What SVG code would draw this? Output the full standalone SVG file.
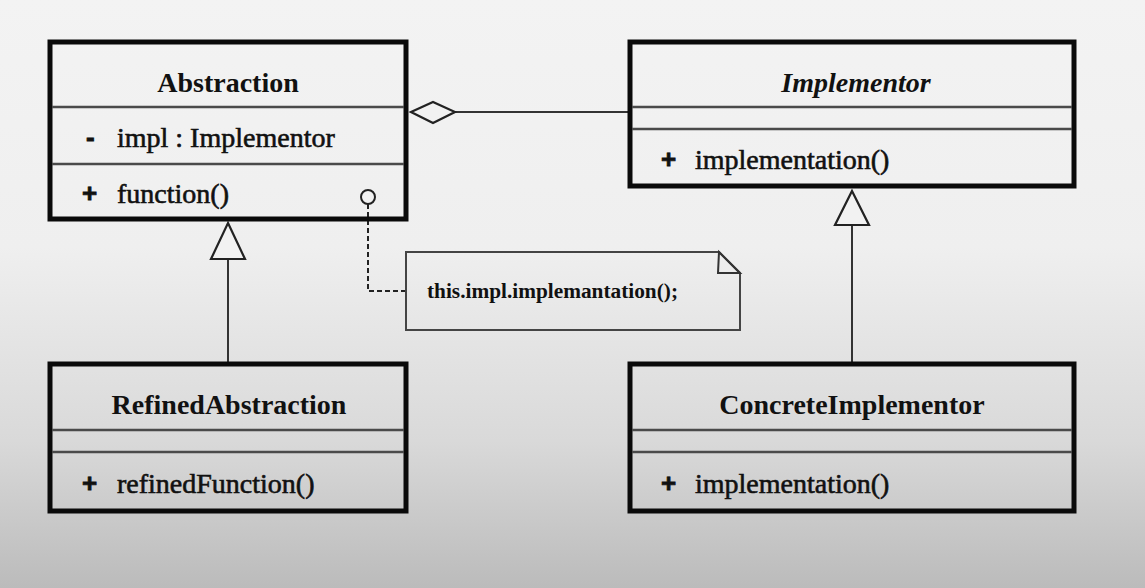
<svg xmlns="http://www.w3.org/2000/svg" width="1145" height="588" viewBox="0 0 1145 588">
<defs>
<linearGradient id="bg" x1="0" y1="0" x2="0" y2="1">
<stop offset="0" stop-color="#f3f3f3"/>
<stop offset="0.42" stop-color="#efefef"/>
<stop offset="0.75" stop-color="#d9d9d9"/>
<stop offset="1" stop-color="#bbbbbb"/>
</linearGradient>
<style>
.box{fill:none;stroke:#0a0a0a;stroke-width:5}
.div{stroke:#4a4a4a;stroke-width:2.5}
.title{font-family:"Liberation Serif","DejaVu Serif",serif;font-size:28px;font-weight:bold;fill:#111;text-anchor:middle}
.mem{font-family:"Liberation Serif","DejaVu Serif",serif;font-size:28px;fill:#111;stroke:#111;stroke-width:0.6}
.vis{font-family:"Liberation Sans","DejaVu Sans",sans-serif;font-size:26px;font-weight:bold;fill:#111;stroke:#111;stroke-width:0.8}
.line{fill:none;stroke:#333;stroke-width:2}
.head{fill:#f2f2f2;stroke:#222;stroke-width:2.2}
.note{font-family:"Liberation Serif","DejaVu Serif",serif;font-size:20px;font-weight:bold;fill:#111}
</style>
</defs>
<rect x="0" y="0" width="1145" height="588" fill="url(#bg)"/>
<g id="connectors">
<line class="line" x1="455" y1="112" x2="630" y2="112"/>
<polygon class="head" points="411,112 433,102 455,112 433,123"/>
<line class="line" x1="228" y1="259" x2="228" y2="364"/>
<polygon class="head" points="228,223 245,259 211,259"/>
<line class="line" x1="852" y1="225" x2="852" y2="364"/>
<polygon class="head" points="852,191 869,225 835,225"/>
<circle cx="368" cy="197" r="7" fill="#f2f2f2" stroke="#222" stroke-width="2"/>
<polyline points="368,204 368,291 406,291" fill="none" stroke="#222" stroke-width="2" stroke-dasharray="5,3"/>
</g>
<g id="abstraction">
<rect class="box" x="50" y="42" width="356" height="177"/>
<line class="div" x1="52" y1="107" x2="404" y2="107"/>
<line class="div" x1="52" y1="164" x2="404" y2="164"/>
<text class="title" x="228" y="92">Abstraction</text>
<text class="vis" x="86" y="146">-</text>
<text class="mem" x="117" y="147">impl : Implementor</text>
<text class="vis" x="82" y="202">+</text>
<text class="mem" x="117" y="203">function()</text>
</g>
<g id="implementor">
<rect class="box" x="630" y="42" width="444" height="144"/>
<line class="div" x1="632" y1="107" x2="1072" y2="107"/>
<line class="div" x1="632" y1="129" x2="1072" y2="129"/>
<text class="title" x="856" y="92" font-style="italic">Implementor</text>
<text class="vis" x="661" y="168">+</text>
<text class="mem" x="695" y="169">implementation()</text>
</g>
<g id="refinedAbstraction">
<rect class="box" x="50" y="364" width="356" height="147"/>
<line class="div" x1="52" y1="430" x2="404" y2="430"/>
<line class="div" x1="52" y1="452" x2="404" y2="452"/>
<text class="title" x="229" y="414">RefinedAbstraction</text>
<text class="vis" x="82" y="492">+</text>
<text class="mem" x="117" y="493">refinedFunction()</text>
</g>
<g id="concreteImplementor">
<rect class="box" x="630" y="364" width="444" height="147"/>
<line class="div" x1="632" y1="430" x2="1072" y2="430"/>
<line class="div" x1="632" y1="452" x2="1072" y2="452"/>
<text class="title" x="852" y="414">ConcreteImplementor</text>
<text class="vis" x="661" y="492">+</text>
<text class="mem" x="695" y="493">implementation()</text>
</g>
<g id="note">
<polygon points="406,252 719,252 740,273 740,330 406,330" fill="none" stroke="#444" stroke-width="2"/>
<polygon points="719,252 740,273 718,273" fill="none" stroke="#333" stroke-width="2"/>
<text class="note" x="427" y="298" textLength="251" lengthAdjust="spacingAndGlyphs">this.impl.implemantation();</text>
</g>
</svg>
